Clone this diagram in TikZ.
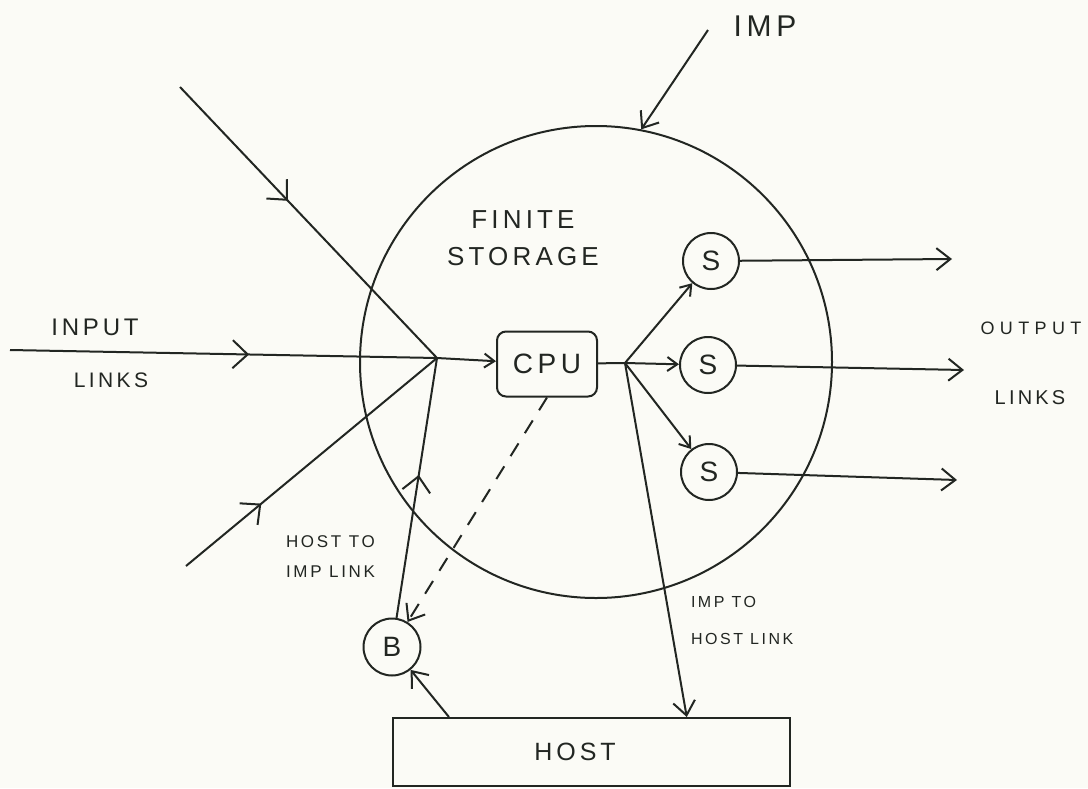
\documentclass[tikz,border=0pt]{standalone}
\usepackage{fontspec}
\usepackage{tikz}
\usetikzlibrary{arrows.meta,positioning,calc,decorations.markings}
\newfontfamily\hand[LetterSpace=16]{Liberation Sans}
\definecolor{ink}{RGB}{34,38,34}
\definecolor{paper}{RGB}{251,251,246}
\newcommand{\hw}[1]{\hand\fontsize{#1}{#1}\selectfont}

\begin{document}
\begin{tikzpicture}[x=1pt, y=-1pt,
    color=ink, line width=2pt,
    tip/.style={-{Straight Barb[length=14pt,width=22pt]}},
    stip/.style={-{Straight Barb[length=10pt,width=14pt]}},
    midtip/.style={postaction={decorate}, decoration={markings,
      mark=at position #1 with {\arrow{Straight Barb[length=15pt,width=28pt]}}}},
    srv/.style={draw, circle, minimum size=56pt, inner sep=0pt, font=\hw{28}},
    lbl/.style={align=left, inner sep=0pt}
  ]
    \fill[paper] (0,0) rectangle (1088,788);
    \useasboundingbox (0,0) rectangle (1088,788);

    % the imp
    \node[draw, circle, minimum size=472pt, inner sep=0pt] (imp) at (596,362) {};
    \node[font=\hw{30}] (implbl) at (765,26) {IMP};
    \coordinate (impfrom) at (708,30);
    \draw[tip] (impfrom) -- (imp.79);

    \node[align=center, font=\hw{26}] (store) at (523,238) {FINITE\\[11pt]STORAGE};

    % cpu and servers
    \node[draw, rounded corners=9pt, minimum width=100pt, minimum height=65pt,
          font=\hw{28}] (cpu) at (547,364) {CPU};
    \node[srv] (s1) at (711,261) {S};
    \node[srv] (s2) at (708,365) {S};
    \node[srv] (s3) at (709,472) {S};
    \node[srv, minimum size=57pt] (buf) at (392,647) {B};

    % host
    \node[draw, minimum width=397pt, minimum height=68pt,
          font=\hw{25}] (host) at (591,752) {HOST\hspace*{32pt}};

    % junctions and free ends
    \coordinate (jin) at (437,358);
    \coordinate (jout) at (625,363);
    \coordinate (ina) at (180,87);
    \coordinate (inb) at (10,350);
    \coordinate (inc) at (186,566);
    \coordinate (outa) at (952,259);
    \coordinate (outb) at (964,370);
    \coordinate (outc) at (957,480);

    % input links
    \draw[midtip=0.42] (ina) -- (jin);
    \draw[midtip=0.56] (inb) -- (jin);
    \draw[midtip=0.3] (inc) -- (jin);
    \draw[midtip=0.55] (buf) -- (jin);
    \draw[stip] (jin) -- (cpu);
    \draw (cpu) -- (jout);

    % output links
    \draw[stip] (jout) -- (s1);
    \draw[stip] (jout) -- (s2);
    \draw[stip] (jout) -- (s3);
    \draw[tip] (s1) -- (outa);
    \draw[tip] (s2) -- (outb);
    \draw[tip] (s3) -- (outc);

    % host links
    \draw[tip] (jout) -- ($(host.north west)!0.74!(host.north east)$);
    \draw[tip] ($(host.north west)!0.144!(host.north east)$) -- (buf);
    \draw[tip, dash pattern=on 15pt off 12pt] (cpu.south) -- (buf);

    % labels
    \node[font=\hw{24}] (inlbl) at (95,327) {INPUT};
    \node[font=\hw{21}] (inlnk) at (111,380) {LINKS};
    \node[font=\hw{18}\addfontfeatures{LetterSpace=30}] (outlbl) at (1031,328) {OUTPUT};
    \node[font=\hw{20}] (outlnk) at (1030,398) {LINKS};
    \node[lbl, font=\hw{17}, anchor=west] (hilbl) at (285,557) {HOST TO\\[13pt]IMP LINK};
    \node[lbl, font=\hw{16}, anchor=west] (ihlbl) at (690,620) {IMP TO\\[21pt]HOST LINK};
  \end{tikzpicture}
\end{document}
